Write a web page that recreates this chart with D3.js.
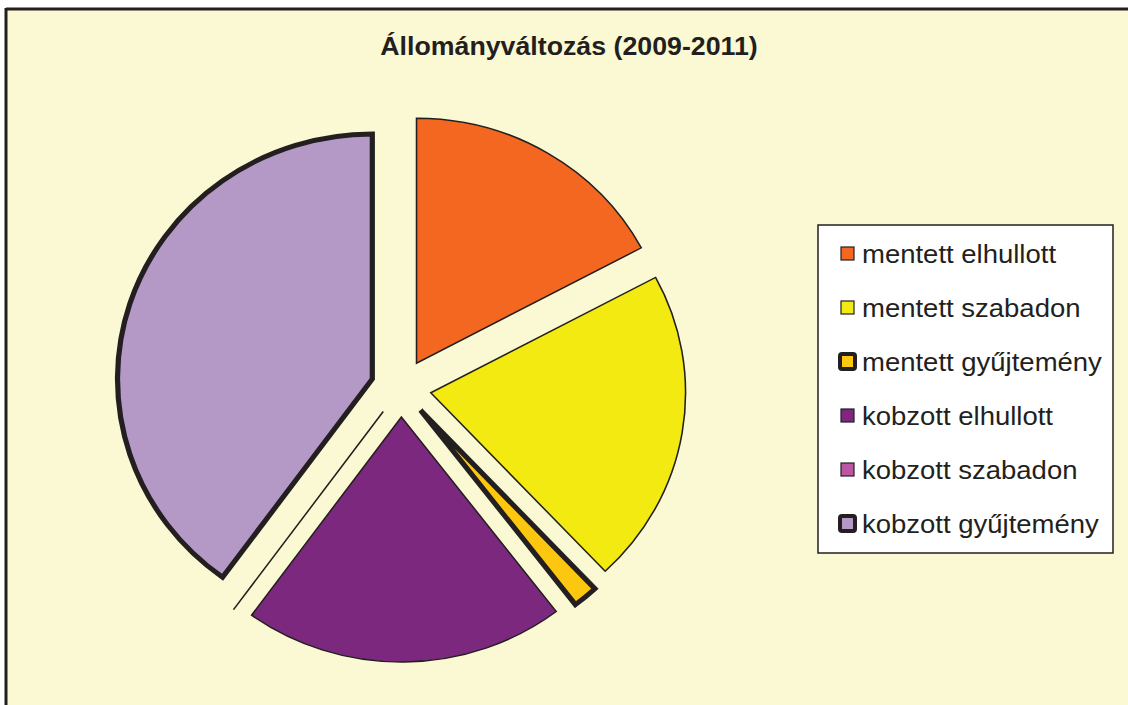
<!DOCTYPE html>
<html>
<head>
<meta charset="utf-8">
<script src="https://cdn.jsdelivr.net/npm/d3@7"></script>
<style>
  body { margin: 0; background: #fff; }
  svg { display: block; }
</style>
</head>
<body>
<svg id="chart" width="1128" height="705"></svg>
<script>
// data (share of the pie)
const categories = ['mentett elhullott', 'mentett szabadon', 'mentett gyűjtemény',
                    'kobzott elhullott', 'kobzott szabadon', 'kobzott gyűjtemény'];
const values = [43, 52, 4, 51, 0, 100];
const colors = ['#f46720', '#f2ea10', '#fdc70f', '#7b287e', '#bc55a6', '#b499c7'];
const strokeWidths = [1.5, 1.5, 5, 1.5, 1.5, 5];

const width = 1128, height = 705;
const svg = d3.select('#chart');

// background + frame (only top and left edges are visible)
svg.append('rect').attr('x', 6).attr('y', 9).attr('width', width).attr('height', height)
  .attr('fill', '#fbf9d3');
svg.append('line').attr('x1', 6).attr('x2', width).attr('y1', 9).attr('y2', 9)
  .attr('stroke', '#231f20').attr('stroke-width', 3);
svg.append('line').attr('x1', 6).attr('x2', 6).attr('y1', 8).attr('y2', height)
  .attr('stroke', '#231f20').attr('stroke-width', 3);

// the original is a bit stretched sideways, so the title text is too
svg.append('text')
  .attr('transform', 'translate(569,55) scale(1.07,1)')
  .attr('text-anchor', 'middle')
  .style('font-family', '"Liberation Sans", Arial, sans-serif')
  .style('font-weight', 'bold')
  .style('font-size', '25px')
  .attr('fill', '#231f20')
  .text('Állományváltozás (2009-2011)');

// pie
const cx = 401, cy = 388, r = 245, explode = 29;
const pie = d3.pie().sort(null).value(d => d.value);
const arc = d3.arc().innerRadius(0).outerRadius(r);
const data = categories.map((c, i) => ({name: c, value: values[i], color: colors[i], sw: strokeWidths[i]}));

const g = svg.append('g').attr('transform', `translate(${cx},${cy}) scale(1.04,1)`);
g.selectAll('path')
  .data(pie(data))
  .enter()
  .append('path')
  .attr('transform', d => {
    const a = (d.startAngle + d.endAngle) / 2;
    return `translate(${Math.sin(a) * explode},${-Math.cos(a) * explode})`;
  })
  .attr('d', arc)
  .attr('fill', d => d.data.color)
  .attr('stroke', '#231f20')
  .attr('stroke-width', d => d.data.sw)
  .attr('stroke-linejoin', 'miter');

// legend
const legend = svg.append('g').attr('transform', 'translate(818,225)');
legend.append('rect').attr('width', 295).attr('height', 328)
  .attr('fill', '#fff').attr('stroke', '#231f20').attr('stroke-width', 1.5);

const row = d3.scaleBand().domain(categories).range([2, 326]);
const items = legend.selectAll('g.item')
  .data(data)
  .enter()
  .append('g')
  .attr('class', 'item')
  .attr('transform', d => `translate(0,${row(d.name) + row.bandwidth() / 2})`);

items.append('rect')
  .attr('x', d => d.sw > 2 ? 22 : 23).attr('y', d => d.sw > 2 ? -8 : -7)
  .attr('width', d => d.sw > 2 ? 15 : 13).attr('height', d => d.sw > 2 ? 15 : 13)
  .attr('rx', d => d.sw > 2 ? 2 : 0)
  .attr('fill', d => d.color)
  .attr('stroke', '#231f20')
  .attr('stroke-width', d => d.sw > 2 ? 4 : 1.2);

items.append('text')
  .attr('transform', 'translate(44,9) scale(1.1,1)')
  .style('font-family', '"Liberation Sans", Arial, sans-serif')
  .style('font-size', '25px')
  .attr('fill', '#231f20')
  .text(d => d.name);
</script>
</body>
</html>
